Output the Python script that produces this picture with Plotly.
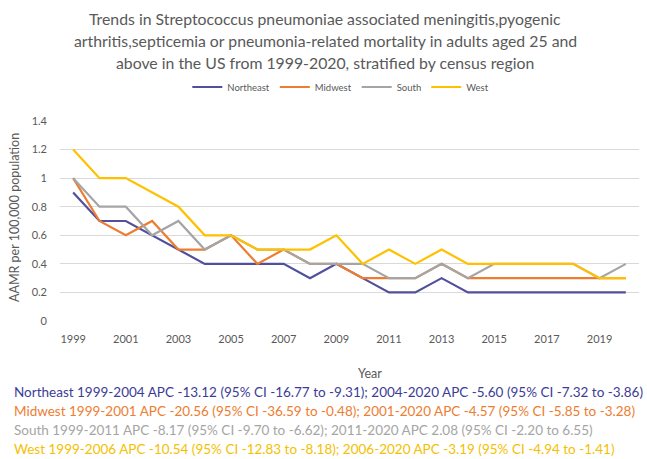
import plotly.graph_objects as go

years = list(range(1999, 2021))
northeast = [0.9, 0.7, 0.7, 0.6, 0.5, 0.4, 0.4, 0.4, 0.4, 0.3, 0.4, 0.3, 0.2, 0.2, 0.3, 0.2, 0.2, 0.2, 0.2, 0.2, 0.2, 0.2]
midwest   = [1.0, 0.7, 0.6, 0.7, 0.5, 0.5, 0.6, 0.4, 0.5, 0.4, 0.4, 0.3, 0.3, 0.3, 0.4, 0.3, 0.3, 0.3, 0.3, 0.3, 0.3, 0.3]
south     = [1.0, 0.8, 0.8, 0.6, 0.7, 0.5, 0.6, 0.5, 0.5, 0.4, 0.4, 0.4, 0.3, 0.3, 0.4, 0.3, 0.4, 0.4, 0.4, 0.4, 0.3, 0.4]
west      = [1.2, 1.0, 1.0, 0.9, 0.8, 0.6, 0.6, 0.5, 0.5, 0.5, 0.6, 0.4, 0.5, 0.4, 0.5, 0.4, 0.4, 0.4, 0.4, 0.4, 0.3, 0.3]
series_names = ["Northeast", "Midwest", "South", "West"]
line_colors = ["#50509C", "#ED7D31", "#A5A5A5", "#FFC000"]
text_colors = ["#3C3C96", "#ED7D31", "#A5A5A5", "#F5C000"]
x_tick_years = list(range(1999, 2021, 2))
y_ticks = [0, 0.2, 0.4, 0.6, 0.8, 1.0, 1.2, 1.4]
y_tick_labels = ["0", "0.2", "0.4", "0.6", "0.8", "1", "1.2", "1.4"]

title_lines = [
    "Trends in Streptococcus pneumoniae associated meningitis,pyogenic",
    "arthritis,septicemia or pneumonia-related mortality in adults aged 25 and",
    "above in the US from 1999-2020, stratified by census region",
]
apc_lines = [
    "Northeast 1999-2004 APC -13.12 (95% CI -16.77 to -9.31); 2004-2020 APC -5.60 (95% CI -7.32 to -3.86)",
    "Midwest 1999-2001 APC -20.56 (95% CI -36.59 to -0.48); 2001-2020 APC -4.57 (95% CI -5.85 to -3.28)",
    "South 1999-2011 APC -8.17 (95% CI -9.70 to -6.62); 2011-2020 APC 2.08 (95% CI -2.20 to 6.55)",
    "West 1999-2006 APC -10.54 (95% CI -12.83 to -8.18); 2006-2020 APC -3.19 (95% CI -4.94 to -1.41)",
]

FONT = "Lato, Open Sans, sans-serif"
GRAY = "#595959"
W, H = 647, 459
L, R, T, B = 60, 8, 121, 138

fig = go.Figure()
for name, vals, col in zip(series_names, [northeast, midwest, south, west], line_colors):
    fig.add_trace(go.Scatter(x=years, y=vals, mode="lines", name=name,
                             line=dict(color=col, width=2.2)))

fig.update_layout(
    width=W, height=H,
    margin=dict(l=L, r=R, t=T, b=B),
    paper_bgcolor="white", plot_bgcolor="white",
    font=dict(family=FONT, color=GRAY),
    showlegend=True,
    legend=dict(orientation="h", x=0.485, xanchor="center", y=1.17, yanchor="middle",
                font=dict(size=9.5, color=GRAY), itemwidth=30,
                bgcolor="rgba(0,0,0,0)"),
    xaxis=dict(range=[1998.5, 2020.5], tickmode="array", tickvals=x_tick_years,
               ticktext=[str(v) for v in x_tick_years],
               showgrid=False, zeroline=False, showline=False, ticks="",
               tickfont=dict(size=11, color=GRAY), ticklabelstandoff=10),
    yaxis=dict(range=[0, 1.4], tickmode="array", tickvals=y_ticks, ticktext=y_tick_labels,
               showgrid=True, gridcolor="#D9D9D9", gridwidth=1, zeroline=False,
               showline=False, ticks="", tickfont=dict(size=11, color=GRAY),
               ticklabelstandoff=12),
)

ann = []
for i, line in enumerate(title_lines):
    ann.append(dict(text=line, xref="paper", yref="paper", x=(325 - L) / (W - L - R),
                    y=(H - B - (18 + 22 * i)) / (H - T - B), xanchor="center", yanchor="middle",
                    showarrow=False, font=dict(size=15.8, color=GRAY, family=FONT)))
# y-axis title
ann.append(dict(text="AAMR per 100,000 population", xref="paper", yref="paper",
                x=(14 - L) / (W - L - R), y=(H - B - 218) / (H - T - B), xanchor="center", yanchor="middle",
                textangle=-90, showarrow=False, font=dict(size=12.5, color=GRAY, family=FONT)))
# x-axis title
ann.append(dict(text="Year", xref="paper", yref="paper",
                x=(370 - L) / (W - L - R), y=(H - B - 373) / (H - T - B), xanchor="center", yanchor="middle",
                showarrow=False, font=dict(size=12.5, color=GRAY, family=FONT)))
for i, (line, col) in enumerate(zip(apc_lines, text_colors)):
    ycen = [392, 411, 430, 449][i]
    ann.append(dict(text=line, xref="paper", yref="paper",
                    x=(12 - L) / (W - L - R), y=(H - B - ycen) / (H - T - B), xanchor="left", yanchor="middle",
                    showarrow=False, font=dict(size=13.5, color=col, family=FONT)))
fig.update_layout(annotations=ann)

fig.write_html("out.html")
